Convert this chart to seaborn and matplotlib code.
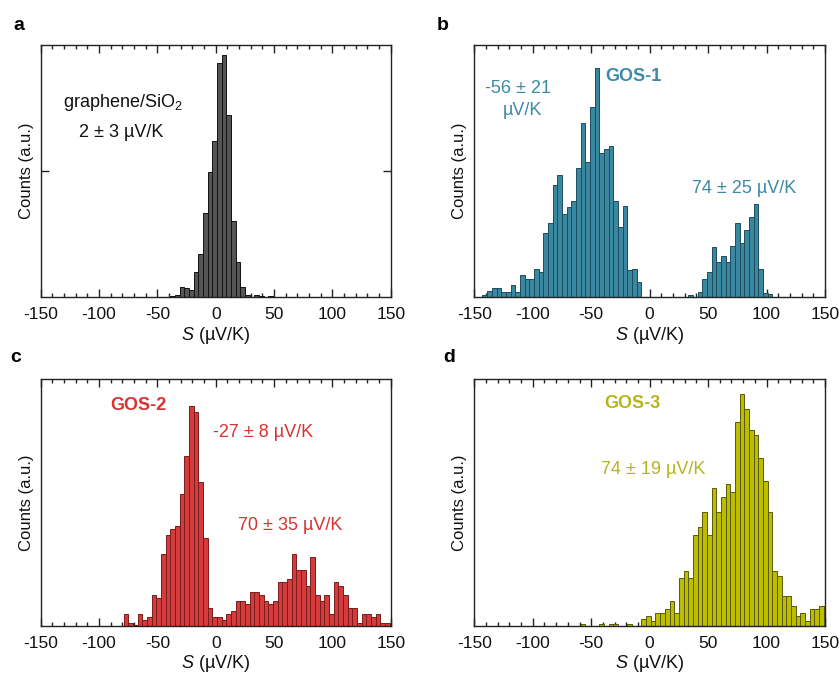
import numpy as np
import pandas as pd
import matplotlib
matplotlib.use('Agg')
import matplotlib.pyplot as plt
from matplotlib.ticker import MultipleLocator
import seaborn as sns

# histogram data (bin width 4 uV/K, counts in a.u.)
BIN_W = 4

a_start = -39
a_counts = [1, 2, 10, 9, 7, 25, 43, 84, 125, 156, 234, 242, 182, 76, 35,
            10, 2, 0, 2, 1, 0, 1]

b_start = -143
b_counts = [2, 6, 9, 9, 5, 5, 12, 5, 22, 18, 18, 28, 25, 64, 74, 112, 122,
            83, 90, 96, 129, 174, 135, 190, 229, 144, 148, 151, 96, 70, 91,
            27, 28, 15,
            0, 0, 0, 0, 0, 0, 0, 0, 0, 0,
            2, 0, 5, 18, 25, 50, 35, 41, 35, 51, 74, 54, 67, 80, 93, 28, 4, 3]

c_start = -79
c_counts = [12, 3, 1, 12, 6, 9, 31, 28, 72, 91, 97, 100, 132, 170, 220, 214,
            144, 88, 18,
            9, 9, 6, 12, 15, 25, 25, 22, 34, 34, 31, 25, 22, 25, 44, 44, 47,
            72, 56, 56, 40, 69, 31, 25, 31, 12, 44, 40, 31, 18, 18, 3, 12,
            12, 9, 12, 3, 3]

d_start = -59
d_counts = [2, 0, 0, 0, 2, 0, 2, 2, 0, 0, 2, 0, 0, 7, 10, 5, 13, 13, 17, 25,
            13, 48, 55, 48, 91, 99, 114, 91, 138, 114, 129, 142, 134, 204,
            232, 217, 196, 191, 168, 145, 114, 55, 50, 30, 30, 20, 10, 13, 5,
            17, 17, 20, 20]

sns.set_theme(style='ticks')
plt.rcParams['font.family'] = ['Liberation Sans', 'DejaVu Sans']
plt.rcParams['mathtext.fontset'] = 'custom'
plt.rcParams['mathtext.rm'] = 'Liberation Sans'
plt.rcParams['mathtext.it'] = 'Liberation Sans:italic'
plt.rcParams['mathtext.bf'] = 'Liberation Sans:bold'
plt.rcParams['axes.unicode_minus'] = False
plt.rcParams['text.color'] = '#111111'
plt.rcParams['axes.labelcolor'] = '#111111'
plt.rcParams['xtick.labelcolor'] = '#111111'

fig = plt.figure(figsize=(8.39, 6.76), dpi=100)

W, H = 839, 676


def make_ax(x0, y_top, w, h):
    return fig.add_axes([x0 / W, 1 - (y_top + h) / H, w / W, h / H])


def draw(ax, start, counts, fill, edge, ymax, mid_tick=False):
    n = len(counts)
    centers = start + BIN_W * (np.arange(n) + 0.5)
    df = pd.DataFrame({'S': centers, 'n': counts})
    sns.histplot(data=df, x='S', weights='n', binwidth=BIN_W,
                 binrange=(start, start + BIN_W * n), ax=ax,
                 color=fill, edgecolor=edge, linewidth=0.7, alpha=1)
    ax.set_xlim(-150, 150)
    ax.set_ylim(0, ymax)
    ax.xaxis.set_major_locator(MultipleLocator(50))
    ax.xaxis.set_minor_locator(MultipleLocator(10))
    ax.tick_params(axis='x', which='both', direction='in', top=True,
                   bottom=True, labelsize=12.5, pad=7, color='#222222')
    ax.tick_params(axis='x', which='major', length=6, width=1)
    ax.tick_params(axis='x', which='minor', length=3, width=1)
    if mid_tick:
        ax.set_yticks([ymax / 2])
        ax.set_yticklabels([])
        ax.tick_params(axis='y', direction='in', left=True, right=True,
                       length=6, width=1, color='#222222', pad=0)
    else:
        ax.set_yticks([])
    for s in ax.spines.values():
        s.set_linewidth(1.0)
        s.set_color('#222222')
    ax.set_xlabel(r'$S$ (µV/K)', fontsize=13, labelpad=2)
    ax.set_ylabel('Counts (a.u.)', fontsize=12, labelpad=5)


ax_a = make_ax(40.7, 45, 350, 252)
ax_b = make_ax(474.3, 45, 350.7, 252)
ax_c = make_ax(40.7, 379, 350, 247)
ax_d = make_ax(474.3, 379, 350.7, 247)

teal, teal_e, teal_t = '#3a87a0', '#1d4d5e', '#3b8aa6'
red, red_e, red_t = '#d63b3b', '#7a1c1c', '#d93232'
olive, olive_e, olive_t = '#bdbd00', '#5a5a00', '#b5b51e'

draw(ax_a, a_start, a_counts, '#555555', '#111111', 252, mid_tick=True)
draw(ax_b, b_start, b_counts, teal, teal_e, 252)
draw(ax_c, c_start, c_counts, red, red_e, 247)
draw(ax_d, d_start, d_counts, olive, olive_e, 247)

fs = 13
ax_a.text(0.235, 0.754, r'graphene/SiO$_\mathregular{2}$', transform=ax_a.transAxes,
          ha='center', va='baseline', fontsize=fs, color='#111111')
ax_a.text(0.230, 0.635, '2 ± 3 µV/K', transform=ax_a.transAxes,
          ha='center', va='baseline', fontsize=fs, color='#111111')

ax_b.text(0.125, 0.810, '-56 ± 21', transform=ax_b.transAxes,
          ha='center', va='baseline', fontsize=fs, color=teal_t)
ax_b.text(0.136, 0.722, 'µV/K', transform=ax_b.transAxes,
          ha='center', va='baseline', fontsize=fs, color=teal_t)
ax_b.text(0.455, 0.857, 'GOS-1', transform=ax_b.transAxes, ha='center',
          va='baseline', fontsize=13, fontweight='bold', color=teal_t)
ax_b.text(0.769, 0.413, '74 ± 25 µV/K', transform=ax_b.transAxes,
          ha='center', va='baseline', fontsize=fs, color=teal_t)

ax_c.text(0.278, 0.8745, 'GOS-2', transform=ax_c.transAxes, ha='center',
          va='baseline', fontsize=13, fontweight='bold', color=red_t)
ax_c.text(0.635, 0.765, '-27 ± 8 µV/K', transform=ax_c.transAxes,
          ha='center', va='baseline', fontsize=fs, color=red_t)
ax_c.text(0.712, 0.389, '70 ± 35 µV/K', transform=ax_c.transAxes,
          ha='center', va='baseline', fontsize=fs, color=red_t)

ax_d.text(0.4515, 0.8826, 'GOS-3', transform=ax_d.transAxes, ha='center',
          va='baseline', fontsize=13, fontweight='bold', color=olive_t)
ax_d.text(0.51, 0.615, '74 ± 19 µV/K', transform=ax_d.transAxes,
          ha='center', va='baseline', fontsize=fs, color=olive_t)

for lbl, px, py in [('a', 13, 30), ('b', 437, 30), ('c', 10, 362), ('d', 443, 362)]:
    fig.text(px / W, 1 - py / H, lbl, ha='left', va='baseline',
             fontsize=14, fontweight='bold', color='black')

fig.savefig('out.png', dpi=100)
